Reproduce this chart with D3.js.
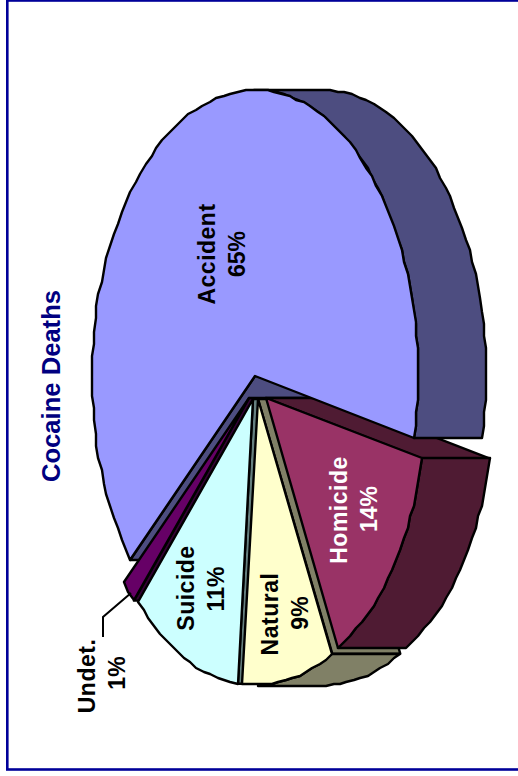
<!DOCTYPE html>
<html>
<head>
<meta charset="utf-8">
<script src="https://cdnjs.cloudflare.com/ajax/libs/d3/7.8.5/d3.min.js"></script>
<style>
html, body { margin: 0; padding: 0; background: #fff; overflow: hidden; }
svg { display: block; }
text { font-family: "Liberation Sans", Arial, sans-serif; font-weight: bold; }
</style>
</head>
<body>
<script>
// chart values, clockwise from the homicide slice
// (small slice and accident, labels show them rounded)
var categories = ["Homicide", "Natural", "Suicide", "Undet.", "Accident"];
var values = [14, 9, 11, 1.4, 64.6];
var chartTitle = "Cocaine Deaths";

var faceColors = ["#993366", "#ffffcc", "#ccffff", "#660066", "#9999ff"];
var wallColors = ["#4f1b33", "#808066", "#668080", "#330033", "#4d4d80"];

var width = 518,
    height = 776;

var svg = d3.select("body").append("svg")
    .attr("width", width)
    .attr("height", height);

// the frame runs off the right side of the picture
svg.append("rect")
    .attr("x", 7.3).attr("y", 0.5)
    .attr("width", 530).attr("height", 769)
    .attr("fill", "#fff")
    .attr("stroke", "#000099")
    .attr("stroke-width", 2.6);

// layout of the tilted pie
var rx = 163, ry = 286, depth = 68;
var apexX = [266, 258, 253, 249, 255];
var apexY = [398, 399, 399, 398, 376];
var radiusScale = [0.98, 1, 1, 1, 1];
var startAngle = 12.5 * Math.PI / 180;

var slices = d3.pie().sort(null)
    .startAngle(startAngle)
    .endAngle(startAngle + 2 * Math.PI)(values)
    .map(function (d, i) {
        return {name: categories[i], value: d.value, a0: d.startAngle, a1: d.endAngle,
                x: apexX[i], y: apexY[i], k: radiusScale[i], face: faceColors[i], wall: wallColors[i]};
    });

function rim(s, t, shift) {
    return [s.x + (shift || 0) + s.k * rx * Math.cos(t), s.y + s.k * ry * Math.sin(t)];
}

// sample an arc coarsely, snapped to pixels the way the old bitmap was
function arcPoints(s, t0, t1, shift) {
    var n = Math.max(2, Math.ceil(Math.abs(t1 - t0) * 22));
    return d3.range(n + 1).map(function (i) {
        var p = rim(s, t0 + (t1 - t0) * i / n, shift);
        return [Math.round(p[0] / 2) * 2, Math.round(p[1] / 2) * 2];
    });
}

var line = d3.line();
var layer = svg.append("g");

function poly(points, fill) {
    layer.append("path")
        .attr("d", line(points) + "Z")
        .attr("fill", fill)
        .attr("stroke", "#000")
        .attr("stroke-width", 2.4)
        .attr("stroke-linejoin", "round");
}

function drawFace(s) {
    poly([[s.x, s.y]].concat(arcPoints(s, s.a0, s.a1)), s.face);
}

// flat side where a slice was cut away from the pie
function drawCut(s, t) {
    var p = rim(s, t);
    poly([[s.x, s.y], p, [p[0] + depth, p[1]], [s.x + depth, s.y]], s.wall);
}

// outer side, only the part turned towards the viewer
function drawRim(s, t0, t1) {
    poly(arcPoints(s, t0, t1).concat(arcPoints(s, t1, t0, depth)), s.wall);
}

var homicide = slices[0], natural = slices[1], suicide = slices[2],
    undet = slices[3], accident = slices[4];

// painter's order, the slices overlap each other
drawCut(accident, accident.a0);
drawCut(undet, undet.a0);
drawCut(suicide, suicide.a0);
drawCut(natural, natural.a0);
drawCut(homicide, homicide.a0);
drawRim(accident, 1.5 * Math.PI, accident.a1);
drawFace(accident);
drawFace(undet);
drawFace(suicide);
drawRim(natural, natural.a0, Math.PI / 2);
drawFace(natural);
drawRim(homicide, homicide.a0, homicide.a1);
drawFace(homicide);

// leader line of the small slice
svg.append("path")
    .attr("d", line([[131, 593], [103, 617], [103, 637]]))
    .attr("fill", "none")
    .attr("stroke", "#000")
    .attr("stroke-width", 2);

function rotatedText(x, y, str, size, color, spacing) {
    svg.append("text")
        .attr("transform", "translate(" + x + "," + y + ") rotate(-90)")
        .attr("text-anchor", "middle")
        .attr("font-size", size)
        .attr("letter-spacing", spacing)
        .attr("fill", color)
        .text(str);
}

rotatedText(60, 386, chartTitle, 25.6, "#000080", 0);

var labelX = [347, 278, 194, 95, 215];
var labelY = [510, 614, 588, 676, 254];
var pctY = [509, 613, 589, 673, 254];
var labelColors = ["#fff", "#000", "#000", "#000", "#000"];
var labelGap = 30;

slices.forEach(function (s, i) {
    rotatedText(labelX[i], labelY[i], s.name, 23, labelColors[i], 0.5);
    rotatedText(labelX[i] + labelGap, pctY[i], Math.round(s.value) + "%", 23, labelColors[i], 0);
});
</script>
</body>
</html>
